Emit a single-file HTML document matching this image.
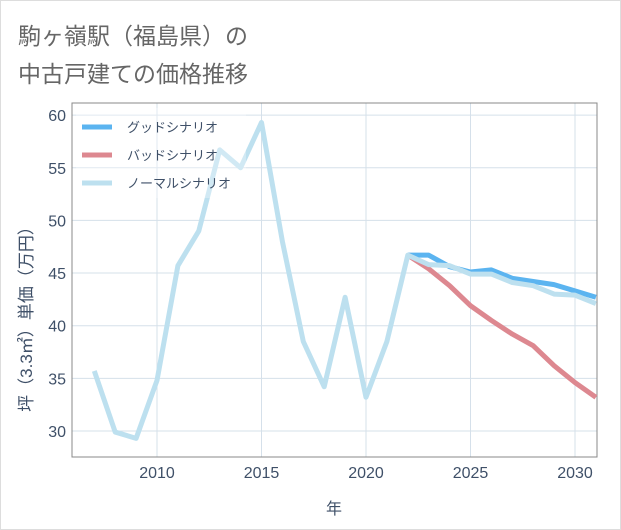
<!DOCTYPE html>
<html><head><meta charset="utf-8"><style>
body{margin:0;background:#fff;}
#wrap{position:relative;width:619px;height:528px;border:1px solid #ddd;background:#fff;font-family:"Liberation Sans","Noto Sans CJK JP",sans-serif;}
.title{position:absolute;left:17px;font-size:23px;color:#666;}
</style></head><body>
<div id="wrap">
<div class="title" style="top:16px">駒ヶ嶺駅（福島県）の</div>
<div class="title" style="top:54px">中古戸建ての価格推移</div>
<svg id="chart" width="621" height="530" style="position:absolute;left:-1px;top:-1px"></svg>
</div>
<script>
const years=[2007,2008,2009,2010,2011,2012,2013,2014,2015,2016,2017,2018,2019,2020,2021,2022,2023,2024,2025,2026,2027,2028,2029,2030,2031];
const normalValues=[35.7,29.9,29.3,34.8,45.7,49,56.7,55,59.3,48,38.5,34.2,42.7,33.2,38.5,46.7,45.8,45.7,44.9,44.9,44.1,43.8,43,42.9,42.1];
const futureYears=[2022,2023,2024,2025,2026,2027,2028,2029,2030,2031];
const goodValues=[46.7,46.7,45.6,45.1,45.3,44.5,44.2,43.9,43.3,42.7];
const badValues=[46.7,45.4,43.8,41.9,40.5,39.2,38.1,36.2,34.6,33.2];
const xTicks=[2010,2015,2020,2025,2030];
const yTicks=[30,35,40,45,50,55,60];
const legendLabels=["グッドシナリオ","バッドシナリオ","ノーマルシナリオ"];
const NS="http://www.w3.org/2000/svg";
const svg=document.getElementById('chart');
const L=72,R=597,T=103,B=457;
const x=v=>157+(v-2010)*20.9;
const y=v=>431-(v-30)*10.53;
function mk(t,a){const e=document.createElementNS(NS,t);for(const k in a)e.setAttribute(k,a[k]);svg.appendChild(e);return e;}
for(const t of xTicks){
const g=mk('line',{x1:x(t),x2:x(t),y1:T,y2:B,stroke:'#d5e0ea','stroke-width':1});


const tx=mk('text',{x:x(t),y:B+21,'text-anchor':'middle','font-size':16,fill:'#3f5068','font-family':'Liberation Sans,sans-serif'});
tx.textContent=t;


}
for(const t of yTicks){
const g=mk('line',{x1:L,x2:R,y1:y(t),y2:y(t),stroke:'#d5e0ea','stroke-width':1});


const tx=mk('text',{x:L-6,y:y(t)+6,'text-anchor':'end','font-size':16,fill:'#3f5068','font-family':'Liberation Sans,sans-serif'});
tx.textContent=t;


}
const fr=mk('rect',{x:L,y:T,width:R-L,height:B-T,fill:'none',stroke:'#888','stroke-width':1});


function line(xs,vs,color,name){
const p=mk('polyline',{points:xs.map((v,i)=>x(v)+','+y(vs[i])).join(' '),fill:'none',stroke:color,'stroke-width':5,'stroke-linejoin':'round'});


}
line(futureYears,goodValues,'#5bb4f0','good-scenario-line');
line(futureYears,badValues,'#dd8890','bad-scenario-line');
line(years,normalValues,'#bde0ef','normal-scenario-line');
const lb=mk('rect',{x:76,y:108,width:170,height:90,fill:'#fff','fill-opacity':0.3});


const lc=['#5bb4f0','#dd8890','#bde0ef'];
legendLabels.forEach((s,i)=>{
const yy=127+i*28;
const ll=mk('line',{x1:82,x2:112,y1:yy,y2:yy,stroke:lc[i],'stroke-width':5});


const t=mk('text',{x:127,y:yy+5,'font-size':13,fill:'#3f5068','font-family':'Liberation Sans,Noto Sans CJK JP,sans-serif'});
t.textContent=s;


});
const xt=mk('text',{x:334,y:514,'text-anchor':'middle','font-size':16,fill:'#3f5068','font-family':'Noto Sans CJK JP,sans-serif'});
xt.textContent='年';


const yt=mk('text',{x:0,y:0,'text-anchor':'middle','font-size':17,fill:'#3f5068','font-family':'Liberation Sans,Noto Sans CJK JP,sans-serif',transform:'translate(32,315) rotate(-90)'});
yt.textContent='坪（3.3㎡）単価（万円）';


</script>
</body></html>
